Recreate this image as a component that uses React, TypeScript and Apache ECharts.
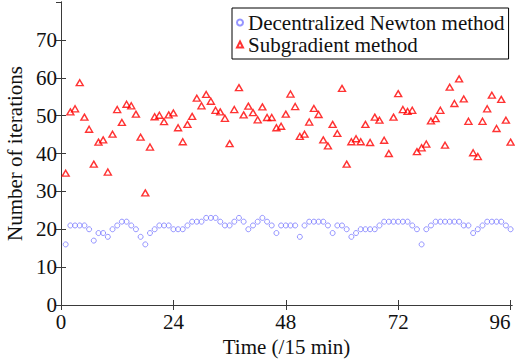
import React, { useEffect, useRef } from "react";
import * as echarts from "echarts";

const timeSlots: number[] = Array.from({ length: 96 }, (_, k) => k + 1);

const newtonIterations: number[] = [
  16, 21, 21, 21, 21, 20, 17, 19, 19, 18, 20, 21, 22, 22, 21, 20, 18, 16, 19, 20,
  21, 21, 21, 20, 20, 20, 21, 22, 22, 22, 23, 23, 23, 22, 21, 21, 22, 23, 22, 20,
  21, 22, 23, 22, 21, 19, 21, 21, 21, 21, 18, 21, 22, 22, 22, 22, 21, 19, 21, 21,
  20, 18, 19, 20, 20, 20, 20, 21, 22, 22, 22, 22, 22, 22, 21, 20, 16, 20, 21, 22,
  22, 22, 22, 22, 22, 21, 21, 19, 20, 21, 22, 22, 22, 22, 21, 20,
];

const subgradientIterations: number[] = [
  34.8, 51.0, 51.8, 58.7, 49.6, 46.4, 37.2, 43.0, 43.6, 35.1, 45.1, 51.6, 48.2, 53.0,
  52.6, 50.4, 44.3, 29.6, 41.7, 49.7, 50.1, 48.4, 50.2, 50.7, 46.8, 43.1, 47.7, 49.8,
  54.6, 52.6, 55.6, 53.8, 51.4, 51.0, 49.3, 42.6, 51.6, 57.4, 50.2, 52.5, 50.8, 48.9,
  52.3, 49.5, 49.5, 46.8, 47.2, 50.4, 55.7, 52.4, 44.5, 45.1, 48.3, 51.9, 50.3, 43.6,
  42.0, 47.7, 45.3, 57.2, 37.2, 43.1, 43.9, 43.1, 47.7, 42.9, 49.6, 48.8, 43.5, 40.0,
  49.6, 55.8, 51.6, 51.1, 51.4, 40.5, 41.5, 42.5, 48.6, 49.2, 51.4, 42.2, 57.5, 53.2,
  59.7, 54.4, 48.5, 40.2, 39.2, 48.5, 51.8, 55.4, 46.6, 54.3, 48.8, 43.0,
];

const xTicks: number[] = [0, 24, 48, 72, 96];
const seriesNames: string[] = ["Decentralized Newton method", "Subgradient method"];
const xName = "Time (/15 min)";
const yName = "Number of iterations";

const FONT = "'Liberation Serif', 'Times New Roman', serif";
const AXIS_COLOR = "#3a3a3a";

export default function App() {
  const ref = useRef<HTMLDivElement>(null);

  useEffect(() => {
    if (!ref.current) return;
    const chart = echarts.init(ref.current, undefined, { renderer: "svg" });

    const axisLine = { show: true, lineStyle: { color: AXIS_COLOR, width: 1 } };
    const tick = { show: true, inside: true, length: 5, lineStyle: { color: AXIS_COLOR, width: 1 } };

    chart.setOption({
      animation: false,
      backgroundColor: "#fff",
      grid: { left: 61, right: 3, top: 2, bottom: 56, containLabel: false, outerBoundsMode: "none" },
      legend: {
        orient: "vertical",
        left: 232,
        top: 8,
        padding: [4, 4, 4, 4],
        itemGap: 1,
        itemWidth: 6,
        itemHeight: 6,
        borderColor: "#000",
        borderWidth: 1,
        backgroundColor: "#fff",
        textStyle: { fontFamily: FONT, fontSize: 21, color: "#111", lineHeight: 21 },
        data: seriesNames,
      },
      xAxis: [
        {
          type: "value",
          min: 0,
          max: 96.3,
          position: "bottom",
          name: xName,
          nameLocation: "middle",
          nameGap: 24,
          nameTextStyle: { fontFamily: FONT, fontSize: 21, color: "#111" },
          axisLine,
          axisTick: { ...tick, customValues: xTicks },
          axisLabel: {
            customValues: xTicks,
            fontFamily: FONT,
            fontSize: 21,
            color: "#111",
            margin: 6,
            alignMinLabel: "center",
            alignMaxLabel: "right",
          },
          splitLine: { show: false },
        },
        {
          type: "value",
          min: 0,
          max: 96.3,
          position: "top",
          axisLine,
          axisTick: { ...tick, customValues: xTicks },
          axisLabel: { show: false },
          splitLine: { show: false },
        },
      ],
      yAxis: [
        {
          type: "value",
          min: 0,
          max: 80,
          interval: 10,
          position: "left",
          name: yName,
          nameLocation: "middle",
          nameGap: 34,
          nameTextStyle: { fontFamily: FONT, fontSize: 21, color: "#111" },
          axisLine,
          axisTick: tick,
          axisLabel: {
            fontFamily: FONT,
            fontSize: 21,
            color: "#111",
            margin: 4,
            showMaxLabel: false,
          },
          splitLine: { show: false },
        },
        {
          type: "value",
          min: 0,
          max: 80,
          interval: 10,
          position: "right",
          axisLine,
          axisTick: tick,
          axisLabel: { show: false },
          splitLine: { show: false },
        },
      ],
      series: [
        {
          name: seriesNames[0],
          type: "scatter",
          symbol: "circle",
          symbolSize: 5,
          itemStyle: { color: "rgba(255,255,255,0)", borderColor: "#7b7bff", borderWidth: 1 },
          data: timeSlots.map((t, k) => [t, newtonIterations[k]]),
        },
        {
          name: seriesNames[1],
          type: "scatter",
          symbol: "triangle",
          symbolSize: [7, 6],
          itemStyle: { color: "rgba(255,255,255,0)", borderColor: "#ff0000", borderWidth: 1.4 },
          data: timeSlots.map((t, k) => [t, subgradientIterations[k]]),
        },
      ],
    });

    return () => chart.dispose();
  }, []);

  return (
    <div
      ref={ref}
      style={{ position: "fixed", left: 0, top: 0, width: 515, height: 361, background: "#fff" }}
    />
  );
}
